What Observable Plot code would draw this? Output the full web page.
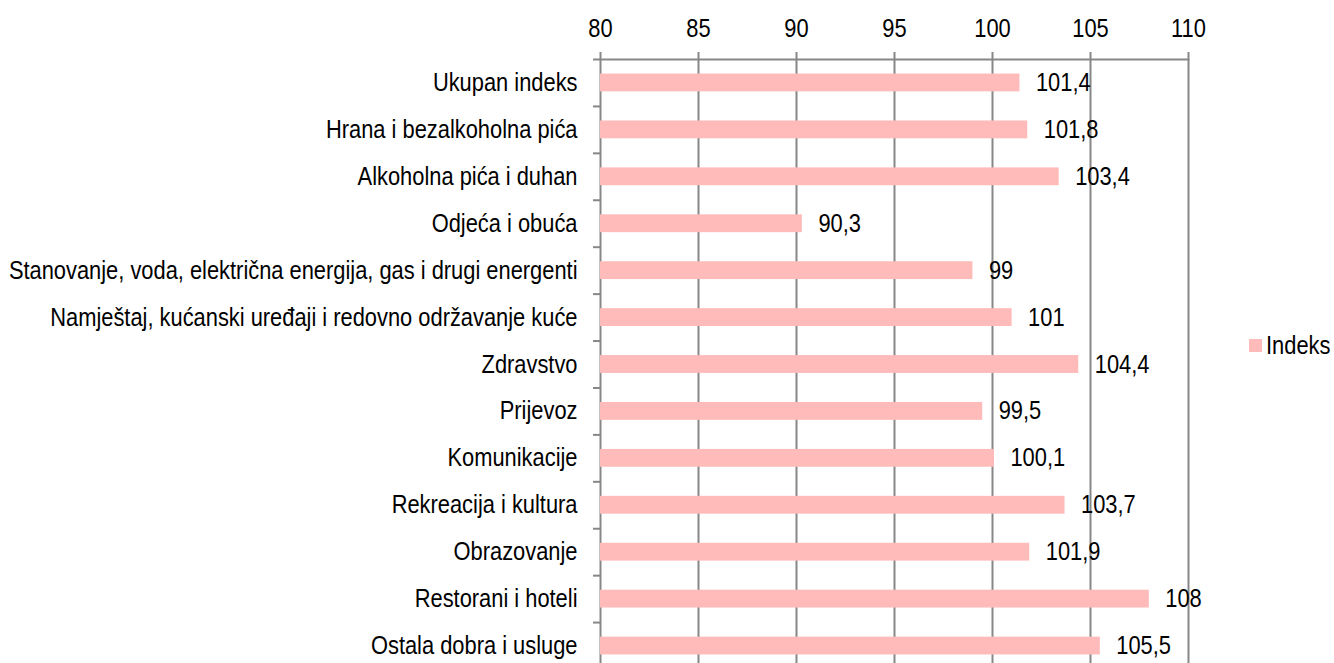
<!DOCTYPE html>
<html>
<head>
<meta charset="utf-8">
<script src="https://cdn.jsdelivr.net/npm/d3@7"></script>
<script src="https://cdn.jsdelivr.net/npm/@observablehq/plot@0.6"></script>
<style>
  html, body { margin: 0; padding: 0; background: #fff; }
  #wrap { position: relative; width: 1334px; height: 663px; font-family: "Liberation Sans", Arial, sans-serif; }
  #legend { position: absolute; left: 1249px; top: 331px; display: flex; align-items: center; font-size: 25px; color: #000; }
  #legend .sw { width: 13px; height: 13px; background: #FFBABA; margin-right: 4px; }
  #legend #legendLabel { display: inline-block; transform: scaleX(0.875); transform-origin: left center; }
</style>
</head>
<body>
<div id="wrap">
  <div id="chart"></div>
  <div id="legend"><span class="sw"></span><span id="legendLabel"></span></div>
</div>
<script>
const categories = [
  "Ukupan indeks",
  "Hrana i bezalkoholna pića",
  "Alkoholna pića i duhan",
  "Odjeća i obuća",
  "Stanovanje, voda, električna energija, gas i drugi energenti",
  "Namještaj, kućanski uređaji i redovno održavanje kuće",
  "Zdravstvo",
  "Prijevoz",
  "Komunikacije",
  "Rekreacija i kultura",
  "Obrazovanje",
  "Restorani i hoteli",
  "Ostala dobra i usluge"
];
const values = [101.4, 101.8, 103.4, 90.3, 99, 101, 104.4, 99.5, 100.1, 103.7, 101.9, 108, 105.5];
const xTicks = [80, 85, 90, 95, 100, 105, 110];
const seriesName = "Indeks";

const data = categories.map((c, i) => ({cat: c, value: values[i]}));
const fmt = v => String(v).replace(".", ",");

const W = 1334, H = 663;
const plotTop = 59, plotBottom = 669;
const step = (plotBottom - plotTop) / categories.length;
const barColor = "#FFBABA";
const gridColor = "#878787";
const font = "Liberation Sans, Arial, sans-serif";
const FS = 25;
const narrow = 0.875;

document.getElementById("legendLabel").textContent = seriesName;

const chart = Plot.plot({
  width: W,
  height: H,
  marginTop: plotTop,
  marginLeft: 600,
  marginRight: 146,
  marginBottom: 0,
  style: {fontFamily: font, fontSize: FS + "px", color: "#000", background: "#fff"},
  x: {domain: [80, 110], range: [600, 1188], label: null},
  y: {domain: categories, range: [plotTop, plotBottom], paddingInner: 0.62, paddingOuter: 0.31, round: false, label: null},
  marks: [
    Plot.ruleX(xTicks, {x: d => d, stroke: gridColor, strokeWidth: 2}),
    Plot.ruleY(categories, {y: d => d, dy: -step / 2, x1: 80 - 7 / 19.6, x2: d => d === categories[0] ? 110 : 80, stroke: gridColor, strokeWidth: 2}),
    Plot.barX(data, {x1: 80, x2: "value", y: "cat", fill: barColor}),
    Plot.text(data, {x: "value", y: "cat", text: d => fmt(d.value), dx: 16, textAnchor: "start", fontSize: FS, fill: "#000"}),
    Plot.axisX(xTicks, {anchor: "top", tickSize: 8, tickPadding: 15, stroke: gridColor, strokeWidth: 2, fontSize: FS, tickFormat: d => d, label: null}),
    Plot.axisY({anchor: "left", tickSize: 0, tickPadding: 23, fontSize: FS, label: null})
  ]
});

// narrow (condensed) lettering, like the original's Arial Narrow
chart.querySelectorAll("text").forEach(t => {
  const tr = t.getAttribute("transform") || "";
  t.setAttribute("transform", (tr + ` scale(${narrow},1)`).trim());
  const fix = el => {
    ["x"].forEach(a => {
      const v = el.getAttribute(a);
      if (v != null && v !== "") el.setAttribute(a, v.split(/[\s,]+/).map(n => +n / narrow).join(" "));
    });
  };
  fix(t);
  t.querySelectorAll("tspan").forEach(fix);
});

document.getElementById("chart").appendChild(chart);
</script>
</body>
</html>
